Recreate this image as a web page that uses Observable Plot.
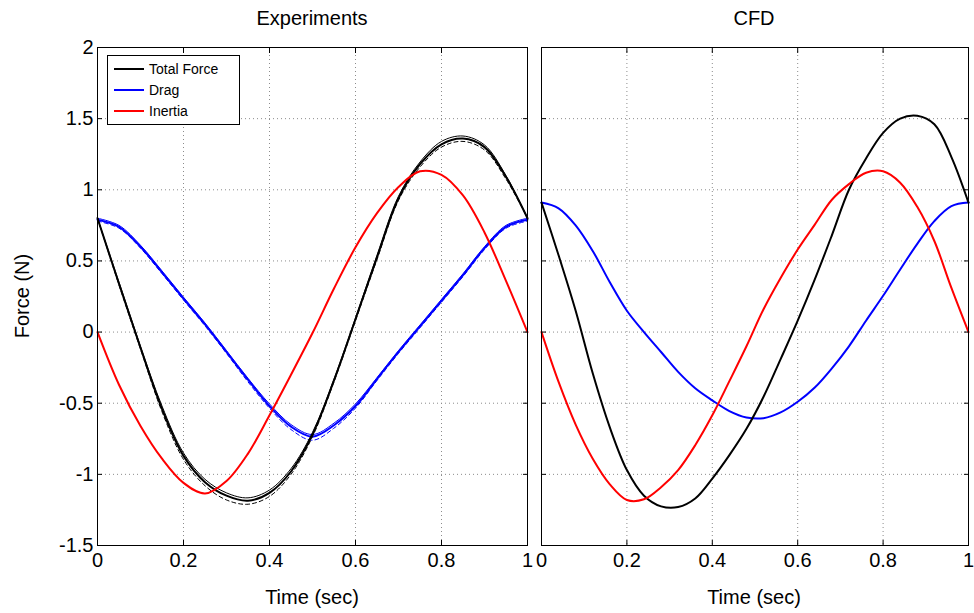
<!DOCTYPE html>
<html><head><meta charset="utf-8">
<script src="https://cdn.jsdelivr.net/npm/d3@7"></script>
<script src="https://cdn.jsdelivr.net/npm/@observablehq/plot@0.6"></script>
<style>
body{margin:0;background:#fff;font-family:Arial,"Liberation Sans",Helvetica,sans-serif;}
#wrap{position:relative;width:974px;height:613px;overflow:hidden;background:#fff}
.p{position:absolute;top:0}
.t{position:absolute;font-size:20px;color:#000;white-space:nowrap;transform:translateX(-50%);line-height:24px}
#legend{position:absolute;left:107px;top:55px;width:131px;height:68px;border:1px solid #000;background:#fff}
.row{position:absolute;left:0;height:20px;width:131px}
.row .ln{position:absolute;left:6px;top:9px;width:30px;height:2px}
.row .lb{position:absolute;left:41px;top:0;font-size:14px;line-height:20px;color:#000}
</style></head><body><div id="wrap"></div>
<script>
// ---- Data ----
const timeExp = [0,0.05,0.10,0.15,0.20,0.25,0.30,0.35,0.40,0.45,0.50,0.55,0.60,0.65,0.70,0.75,0.80,0.85,0.90,0.95,1.00];
const expTotal      = [0.80,0.34,-0.11,-0.54,-0.87,-1.055,-1.15,-1.185,-1.13,-0.98,-0.72,-0.34,0.09,0.525,0.94,1.18,1.32,1.36,1.30,1.09,0.80];
const expTotalUpper = [0.80,0.35,-0.10,-0.52,-0.85,-1.035,-1.13,-1.165,-1.11,-0.96,-0.705,-0.33,0.10,0.54,0.955,1.195,1.34,1.378,1.315,1.10,0.80];
const expTotalLower = [0.80,0.33,-0.12,-0.56,-0.895,-1.08,-1.18,-1.21,-1.155,-1.00,-0.735,-0.35,0.08,0.51,0.925,1.16,1.30,1.34,1.28,1.075,0.80];
const expDrag       = [0.79,0.74,0.60,0.42,0.235,0.054,-0.14,-0.335,-0.52,-0.665,-0.735,-0.655,-0.52,-0.33,-0.14,0.04,0.22,0.40,0.59,0.74,0.79];
const expDragUpper  = [0.80,0.75,0.61,0.43,0.245,0.064,-0.13,-0.325,-0.505,-0.65,-0.72,-0.64,-0.505,-0.32,-0.13,0.05,0.23,0.41,0.60,0.75,0.80];
const expDragLower  = [0.78,0.73,0.59,0.41,0.225,0.044,-0.15,-0.35,-0.535,-0.685,-0.76,-0.675,-0.535,-0.34,-0.15,0.03,0.21,0.39,0.58,0.73,0.78];
const expInertia    = [0,-0.37,-0.66,-0.89,-1.06,-1.135,-1.047,-0.854,-0.585,-0.30,-0.007,0.306,0.596,0.836,1.02,1.13,1.105,0.96,0.70,0.36,0];

const timeCfd = [0,0.04,0.08,0.12,0.16,0.20,0.24,0.28,0.32,0.36,0.40,0.44,0.48,0.52,0.56,0.60,0.64,0.68,0.72,0.76,0.80,0.84,0.88,0.92,0.96,1.00];
const cfdTotal   = [0.91,0.54,0.15,-0.29,-0.67,-0.97,-1.15,-1.225,-1.23,-1.17,-1.03,-0.865,-0.68,-0.455,-0.19,0.08,0.37,0.68,1.00,1.22,1.40,1.50,1.52,1.46,1.23,0.91];
const cfdDrag    = [0.91,0.87,0.75,0.57,0.35,0.15,0.00,-0.14,-0.28,-0.395,-0.48,-0.555,-0.60,-0.605,-0.565,-0.49,-0.39,-0.255,-0.10,0.08,0.255,0.44,0.62,0.78,0.885,0.91];
const cfdInertia = [0,-0.35,-0.65,-0.89,-1.07,-1.18,-1.175,-1.09,-0.97,-0.795,-0.585,-0.345,-0.10,0.16,0.38,0.58,0.755,0.93,1.04,1.12,1.13,1.05,0.88,0.64,0.31,0];

const xTicks = [0,0.2,0.4,0.6,0.8,1];
const yTicks = [-1.5,-1,-0.5,0,0.5,1,1.5,2];
const panelTitles = ["Experiments","CFD"];
const legendLabels = ["Total Force","Drag","Inertia"];
const colors = {total:"#000000", drag:"#0000ff", inertia:"#ff0000"};

function rows(ts, vs){ return ts.map((t,i)=>({t, v: vs[i]})); }

const FONT = 'Arial,"Liberation Sans",Helvetica,sans-serif';
function panel({lines, showYLabels, width, marginLeft, marginRight}){
  const fmt = d => String(d);
  const blank = () => "";
  return Plot.plot({
    width, height: 613, marginTop: 47, marginBottom: 68, marginLeft, marginRight,
    x: {domain:[0,1], label:null},
    y: {domain:[-1.5,2], label:null},
    style: {fontFamily: FONT, fontSize: "20px", background: "transparent", overflow: "visible", color:"#000"},
    marks: [
      Plot.gridX(xTicks, {stroke:"#8c8c8c", strokeOpacity:1, strokeDasharray:"1,3", strokeWidth:1}),
      Plot.gridY(yTicks, {stroke:"#8c8c8c", strokeOpacity:1, strokeDasharray:"1,3", strokeWidth:1}),
      ...lines,
      Plot.frame({stroke:"#000", strokeWidth:1}),
      Plot.axisX(xTicks, {anchor:"bottom", tickSize:0, tickPadding:7, tickFormat:fmt, fontSize:20, label:null}),
      Plot.axisX(xTicks, {anchor:"bottom", tickSize:5, dy:-5, tickFormat:blank, label:null}),
      Plot.axisX(xTicks, {anchor:"top", tickSize:5, dy:5, tickFormat:blank, label:null}),
      Plot.axisY(yTicks, {anchor:"left", tickSize:5, dx:5, tickFormat:blank, label:null}),
      Plot.axisY(yTicks, {anchor:"right", tickSize:5, dx:-5, tickFormat:blank, label:null}),
      showYLabels ? Plot.axisY(yTicks, {anchor:"left", tickSize:0, tickPadding:4, tickFormat:fmt, fontSize:20, label:null}) : null
    ]
  });
}

const curve = "catmull-rom";
const expLines = [
  Plot.line(rows(timeExp, expDragUpper), {x:"t", y:"v", stroke:colors.drag, strokeWidth:1, curve}),
  Plot.line(rows(timeExp, expDragLower), {x:"t", y:"v", stroke:colors.drag, strokeWidth:1, strokeDasharray:"4,3", curve}),
  Plot.line(rows(timeExp, expDrag), {x:"t", y:"v", stroke:colors.drag, strokeWidth:2, curve}),
  Plot.line(rows(timeExp, expTotalUpper), {x:"t", y:"v", stroke:colors.total, strokeWidth:1, curve}),
  Plot.line(rows(timeExp, expTotalLower), {x:"t", y:"v", stroke:colors.total, strokeWidth:1, strokeDasharray:"4,3", curve}),
  Plot.line(rows(timeExp, expTotal), {x:"t", y:"v", stroke:colors.total, strokeWidth:2, curve}),
  Plot.line(rows(timeExp, expInertia), {x:"t", y:"v", stroke:colors.inertia, strokeWidth:2, curve})
];
const cfdLines = [
  Plot.line(rows(timeCfd, cfdDrag), {x:"t", y:"v", stroke:colors.drag, strokeWidth:2, curve}),
  Plot.line(rows(timeCfd, cfdTotal), {x:"t", y:"v", stroke:colors.total, strokeWidth:2, curve}),
  Plot.line(rows(timeCfd, cfdInertia), {x:"t", y:"v", stroke:colors.inertia, strokeWidth:2, curve})
];

const wrap = document.getElementById("wrap");
const left = panel({lines: expLines, showYLabels:true, width:534, marginLeft:97, marginRight:7});
left.classList.add("p"); left.style.left = "0px";
const right = panel({lines: cfdLines, showYLabels:false, width:439, marginLeft:7, marginRight:5});
right.classList.add("p"); right.style.left = "534px";
wrap.appendChild(left); wrap.appendChild(right);

function text(str, x, y, extra){
  const d = document.createElement("div");
  d.className = "t"; d.textContent = str;
  d.style.left = x + "px"; d.style.top = y + "px";
  if (extra) Object.assign(d.style, extra);
  wrap.appendChild(d);
}
text(panelTitles[0], 312, 6);
text(panelTitles[1], 754, 6);
text("Time (sec)", 312, 585);
text("Time (sec)", 754, 585);
text("Force (N)", 22, 284, {transform:"translateX(-50%) rotate(-90deg)"});

const lg = document.createElement("div"); lg.id = "legend";
[colors.total, colors.drag, colors.inertia].forEach((c,i)=>{
  const r = document.createElement("div"); r.className = "row"; r.style.top = (3 + i*21) + "px";
  const ln = document.createElement("div"); ln.className = "ln"; ln.style.background = c;
  const lb = document.createElement("div"); lb.className = "lb"; lb.textContent = legendLabels[i];
  r.appendChild(ln); r.appendChild(lb); lg.appendChild(r);
});
wrap.appendChild(lg);
</script></body></html>
